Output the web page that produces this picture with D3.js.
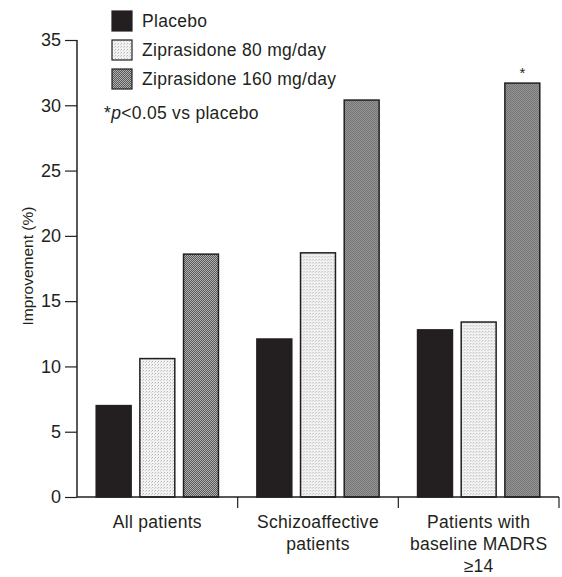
<!DOCTYPE html>
<html>
<head>
<meta charset="utf-8">
<script src="https://cdn.jsdelivr.net/npm/d3@7"></script>
<style>
  body { margin: 0; background: #fff; }
  text { font-family: "Liberation Sans", Arial, Helvetica, sans-serif; fill: #231f20; }
</style>
</head>
<body>
<div id="chart"></div>
<script>
// data
var groups = ["All patients", "Schizoaffective patients", "Patients with baseline MADRS ≥14"];
var groupLines = [["All patients"], ["Schizoaffective", "patients"], ["Patients with", "baseline MADRS", "≥14"]];
var series = ["Placebo", "Ziprasidone 80 mg/day", "Ziprasidone 160 mg/day"];
var placebo = [7.0, 12.1, 12.8];
var zip80 = [10.6, 18.7, 13.4];
var zip160 = [18.6, 30.4, 31.7];
var significant = [false, false, true]; // 160 mg vs placebo
var yTicks = [0, 5, 10, 15, 20, 25, 30, 35];

var svgWidth = 562;
var svgHeight = 577;
var margin = { top: 40, right: 3, bottom: 80, left: 77 };
var width = svgWidth - margin.left - margin.right;
var height = svgHeight - margin.top - margin.bottom;

var svg = d3.select("#chart")
  .append("svg")
  .attr("width", svgWidth)
  .attr("height", svgHeight);

// textures
var defs = svg.append("defs");
var light = defs.append("pattern").attr("id", "light")
  .attr("width", 3).attr("height", 3).attr("patternUnits", "userSpaceOnUse");
light.append("rect").attr("width", 3).attr("height", 3).attr("fill", "#f2f2f2");
light.append("rect").attr("x", 0).attr("y", 0).attr("width", 1).attr("height", 1).attr("fill", "#b8b8b8");
light.append("rect").attr("x", 2).attr("y", 1).attr("width", 1).attr("height", 1).attr("fill", "#d0d0d0");

var dark = defs.append("pattern").attr("id", "dark")
  .attr("width", 2).attr("height", 2).attr("patternUnits", "userSpaceOnUse");
dark.append("rect").attr("width", 2).attr("height", 2).attr("fill", "#b4b4b4");
dark.append("rect").attr("x", 0).attr("y", 0).attr("width", 1).attr("height", 1).attr("fill", "#555");
dark.append("rect").attr("x", 1).attr("y", 1).attr("width", 1).attr("height", 1).attr("fill", "#555");

var fills = ["#231f20", "url(#light)", "url(#dark)"];

var chartGroup = svg.append("g")
  .attr("transform", `translate(${margin.left}, ${margin.top})`);

var data = groups.map(function(g, i) {
  return { group: g, values: [placebo[i], zip80[i], zip160[i]], sig: significant[i], lines: groupLines[i] };
});

// scales
var x0 = d3.scaleBand()
  .domain(groups)
  .range([0, 482])
  .padding(0);

var x1 = d3.scaleBand()
  .domain(series)
  .range([0, x0.bandwidth()])
  .paddingInner(0.2)
  .paddingOuter(0.44);

var y = d3.scaleLinear()
  .domain([0, 35])
  .range([height, 0]);

// y axis
var leftAxis = d3.axisLeft(y).tickValues(yTicks).tickSize(12).tickPadding(4);
var yAxis = chartGroup.append("g").call(leftAxis);
yAxis.select(".domain").attr("d", `M0,${y(35)}V${height}`).attr("stroke", "#231f20").attr("stroke-width", 1.5);
yAxis.selectAll(".tick line").attr("stroke", "#231f20").attr("stroke-width", 1.2);
yAxis.selectAll(".tick text").attr("font-size", "18px").attr("fill", "#231f20")
  .attr("font-family", "Liberation Sans, Arial, sans-serif");

// bars
var barGroups = chartGroup.selectAll(".grp")
  .data(data)
  .enter()
  .append("g")
  .attr("transform", d => `translate(${x0(d.group)}, 0)`);

barGroups.selectAll("rect")
  .data(d => d.values.map((v, j) => ({ key: series[j], value: v, j: j })))
  .enter()
  .append("rect")
  .attr("x", d => x1(d.key))
  .attr("y", d => y(d.value))
  .attr("width", x1.bandwidth())
  .attr("height", d => height - y(d.value))
  .attr("fill", d => fills[d.j])
  .attr("stroke", "#231f20")
  .attr("stroke-width", 1.5);

// significance marker
barGroups.filter(d => d.sig)
  .append("text")
  .attr("x", x1(series[2]) + x1.bandwidth() / 2)
  .attr("y", d => y(d.values[2]) - 5)
  .attr("text-anchor", "middle")
  .attr("font-size", "15px")
  .text("*");

// x axis
var xAxis = chartGroup.append("g").attr("transform", `translate(0, ${height})`);
xAxis.append("line")
  .attr("x1", 0).attr("x2", 482)
  .attr("stroke", "#231f20").attr("stroke-width", 1.5);
xAxis.selectAll(".sep")
  .data(groups)
  .enter()
  .append("line")
  .attr("x1", d => x0(d) + x0.bandwidth())
  .attr("x2", d => x0(d) + x0.bandwidth())
  .attr("y1", 0).attr("y2", 11)
  .attr("stroke", "#231f20").attr("stroke-width", 1.2);

var labels = xAxis.selectAll(".lbl")
  .data(data)
  .enter()
  .append("text")
  .attr("text-anchor", "middle")
  .attr("font-size", "17.5px")
  .attr("letter-spacing", "0.3px");
labels.selectAll("tspan")
  .data(d => d.lines.map(l => ({ l: l, cx: x0(d.group) + x0.bandwidth() / 2 })))
  .enter()
  .append("tspan")
  .attr("x", d => d.cx)
  .attr("y", (d, i) => 31 + i * 22)
  .text(d => d.l);

// y label
chartGroup.append("text")
  .attr("transform", "rotate(-90)")
  .attr("x", 0 - 226)
  .attr("y", 28 - margin.left)
  .attr("dy", "0.35em")
  .attr("text-anchor", "middle")
  .attr("font-size", "15.5px")
  .text("Improvement (%)");

// legend
var legend = svg.append("g");
var items = legend.selectAll(".item")
  .data(series)
  .enter()
  .append("g")
  .attr("transform", (d, i) => `translate(112, ${11 + i * 29})`);
items.append("rect")
  .attr("width", 20).attr("height", 20)
  .attr("fill", (d, i) => fills[i])
  .attr("stroke", "#231f20").attr("stroke-width", 1.2);
items.append("text")
  .attr("x", 30).attr("y", 10)
  .attr("dy", "0.36em")
  .attr("font-size", "17.5px")
  .attr("letter-spacing", "0.3px")
  .text(d => d);

var note = legend.append("text")
  .attr("x", 104).attr("y", 119)
  .attr("font-size", "17.5px")
  .attr("letter-spacing", "0.3px");
note.append("tspan").text("*");
note.append("tspan").attr("font-style", "italic").text("p");
note.append("tspan").text("<0.05 vs placebo");
</script>
</body>
</html>
